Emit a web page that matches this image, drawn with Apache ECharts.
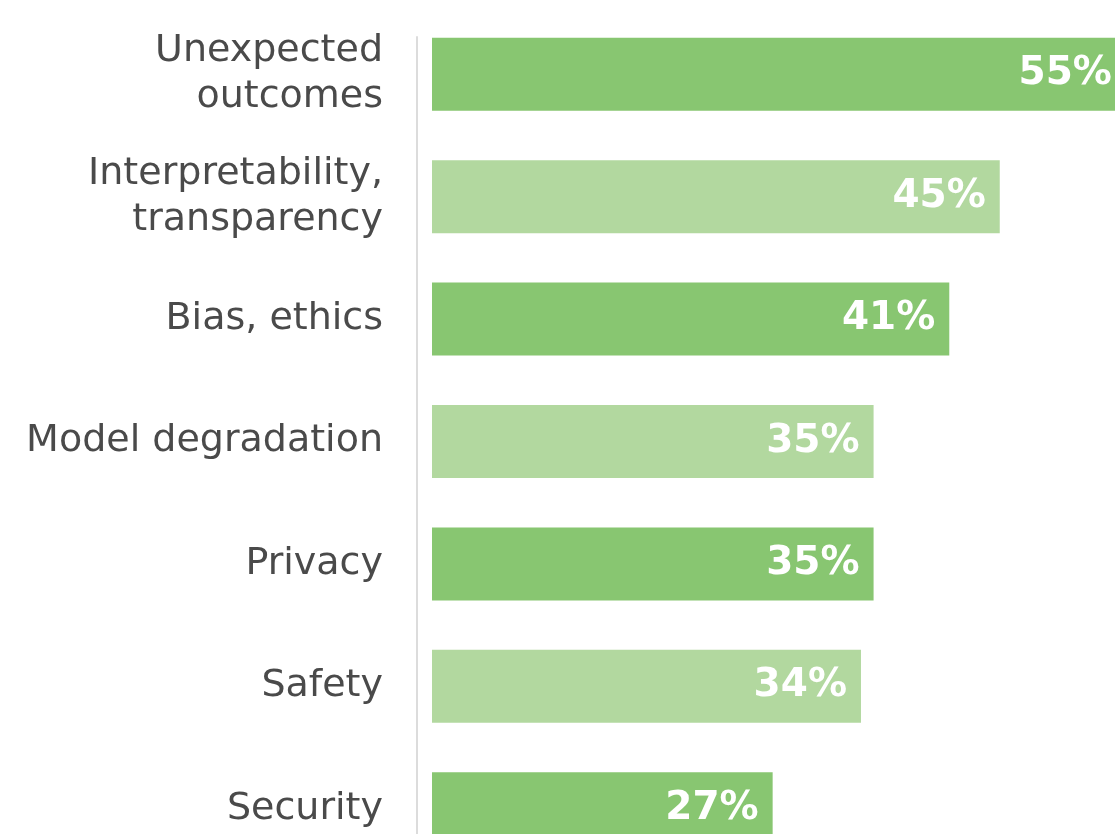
<!DOCTYPE html>
<html><head><meta charset="utf-8">
<script src="https://cdn.jsdelivr.net/npm/echarts@6/dist/echarts.min.js"></script>
<style>html,body{margin:0;padding:0;background:#fff;overflow:hidden;width:1115px;height:834px}#c{width:1200px;height:900px}</style>
</head><body><div id="c"></div>
<script>
var categories = ['Unexpected\noutcomes', 'Interpretability,\ntransparency', 'Bias, ethics', 'Model degradation', 'Privacy', 'Safety', 'Security'];
var values = [55, 45, 41, 35, 35, 34, 27];
var palette = ['#88c671', '#b2d89f'];
var chart = echarts.init(document.getElementById('c'));
chart.setOption({
  animation: false,
  grid: [
    {left: 432, top: 13, width: 757, height: 857, containLabel: false},
    {left: 417, top: 37, width: 10, bottom: 0}
  ],
  xAxis: [
    {gridIndex: 0, type: 'value', min: 0, max: 60, show: false},
    {gridIndex: 1, type: 'value', show: false}
  ],
  yAxis: [
    {gridIndex: 0, type: 'category', inverse: true, data: categories,
     axisLine: {show: false}, axisTick: {show: false},
     axisLabel: {margin: 49, fontFamily: 'DejaVu Sans', fontSize: 38, color: '#4a4a4a', lineHeight: 46, align: 'right', padding: [6, 0, 0, 0]}},
    {gridIndex: 1, type: 'value', axisLine: {show: true, lineStyle: {color: '#dcdcdc', width: 2}},
     axisLabel: {show: false}, axisTick: {show: false}, splitLine: {show: false}}
  ],
  series: [{
    type: 'bar', xAxisIndex: 0, yAxisIndex: 0, data: values, barWidth: 73,
    itemStyle: {color: function (p) { return palette[p.dataIndex % 2]; }},
    label: {show: true, position: 'insideRight', distance: 14, formatter: '{c}%', color: '#fff',
            fontFamily: 'DejaVu Sans', fontWeight: 'bold', fontSize: 39}
  }]
});
</script></body></html>
